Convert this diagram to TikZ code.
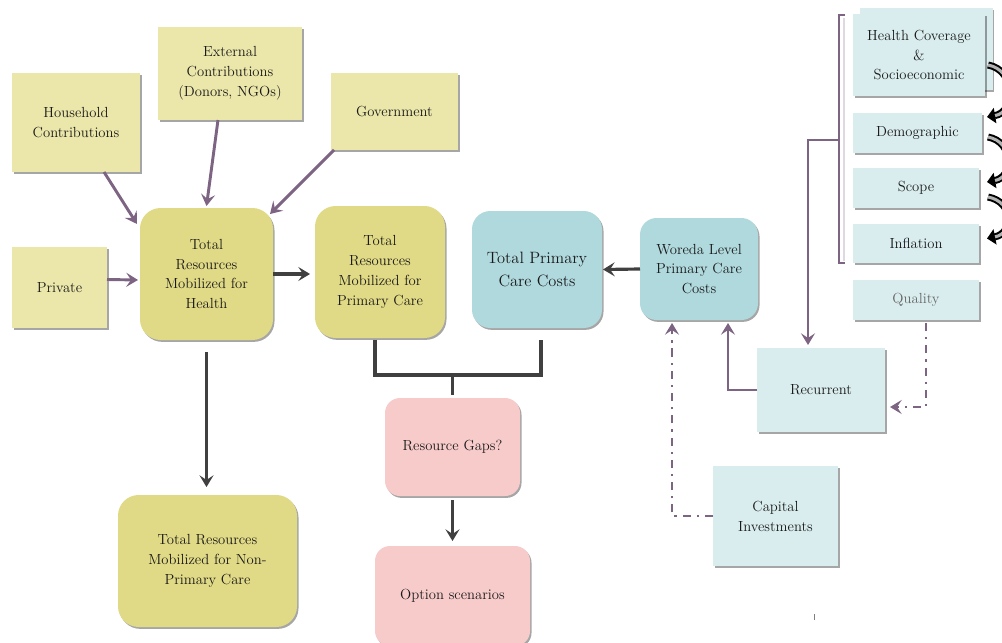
\documentclass[tikz,border=0pt]{standalone}
\usetikzlibrary{arrows.meta,calc,shadows}
\definecolor{ylt}{HTML}{EBE6A9}
\definecolor{ydk}{HTML}{E0D985}
\definecolor{tdk}{HTML}{B0D9DE}
\definecolor{tlt}{HTML}{D9ECEE}
\definecolor{pnk}{HTML}{F8CBCB}
\definecolor{purp}{HTML}{7D6482}
\definecolor{dk}{HTML}{404040}
\tikzset{
 sz/.style 2 args={minimum width=#1*0.03cm, minimum height=#2*0.03cm},
 base/.style={inner sep=2pt, outer sep=0pt, align=center,
   font=\fontsize{12.5}{17}\selectfont, text=black!90,
   drop shadow={shadow xshift=1.3pt, shadow yshift=-1.6pt, opacity=0.35, fill=black}},
 srcbox/.style={base, fill=ylt},
 rybox/.style={base, fill=ydk, rounded corners=0.62cm},
 tbox/.style={base, fill=tdk, rounded corners=0.55cm},
 lbox/.style={base, fill=tlt},
 pbox/.style={base, fill=pnk, rounded corners=0.45cm},
 tip/.style={-{Stealth[length=10pt,width=12pt,inset=4pt]}},
 parrow/.style={tip, draw=purp, line width=2.5pt},
 darrow/.style={tip, draw=dk, line width=2.7pt},
 dline/.style={draw=dk, line width=2.7pt},
 ddarrow/.style={parrow, dash pattern=on 7pt off 5pt on 2pt off 5pt},
 curv/.style={line width=6pt, draw=black, -{Triangle[length=7pt,width=13pt]}},
 curvin/.style={line width=2.6pt, draw=gray!60, shorten >=7pt}
}
\begin{document}
\begin{tikzpicture}[x=0.03cm,y=-0.03cm]
\useasboundingbox (0,0) rectangle (1002,643);
\clip (0,0) rectangle (1002,643);

% source boxes
\node[srcbox, sz={128}{99}] (hh) at (76,122.5) {Household\\Contributions};
\node[srcbox, sz={144}{93}] (ext) at (230,73.5) {External\\Contributions\\(Donors, NGOs)};
\node[srcbox, sz={127}{77}] (gov) at (394.5,111.5) {Government};
\node[srcbox, sz={95}{81}] (pr) at (59.5,287.5) {Private};

% resource boxes
\node[rybox, sz={133}{132}] (trh) at (206.5,274) {Total\\Resources\\Mobilized for\\Health};
\node[rybox, sz={130}{132}] (trpc) at (380,272) {Total\\Resources\\Mobilized for\\Primary Care};
\node[rybox, sz={179}{132}] (npc) at (207.5,561) {Total Resources\\Mobilized for Non-\\Primary Care};

% cost boxes
\node[tbox, sz={130}{117}, font=\fontsize{14}{19}\selectfont] (tpcc) at (537,269.5) {Total Primary\\Care Costs};
\node[tbox, sz={118}{102}, rounded corners=0.5cm] (wor) at (699,269) {Woreda Level\\Primary Care\\Costs};

% driver boxes
\node[lbox, sz={133}{82}] (hcb) at (926,49) {};
\node[lbox, sz={132}{82}] (hc) at (919,55) {Health Coverage\\\&\\Socioeconomic};
\node[lbox, sz={129}{40}] (dem) at (917.5,133) {Demographic};
\node[lbox, sz={126}{40}] (scp) at (916,188) {Scope};
\node[lbox, sz={126}{39}] (inf) at (916,243.5) {Inflation};
\node[lbox, sz={126}{40}, text=black!60] (qual) at (916,300) {Quality};
\node[lbox, sz={128}{84}] (rec) at (821,390) {Recurrent};
\node[lbox, sz={125}{100}] (cap) at (775.5,516) {Capital\\Investments};

% gap boxes
\node[pbox, sz={135}{98}] (rg) at (452.5,447) {Resource Gaps?};
\node[pbox, sz={155}{100}] (opt) at (452.5,596) {Option scenarios};

% source arrows
\draw[parrow] ($(hh.south)+(28,0)$) -- ($(trh.north west)+(-3,16)$);
\draw[parrow] ($(ext.south)+(-12,0)$) -- ($(trh.north)+(0,-2)$);
\draw[parrow] ($(gov.south west)+(3,0)$) -- ($(trh.north east)+(-3,6)$);
\draw[parrow] ($(pr.east)+(0,-8)$) -- ($(trh.west)+(-2,6)$);

% dark arrows
\draw[darrow] (trh.east) -- ($(trpc.west)+(-5,2)$);
\draw[darrow] ($(trh.south)+(0,12)$) -- ($(npc.north)+(-1,-8)$);
\draw[darrow] (wor.west) -- ($(tpcc.east)+(1,0)$);
\draw[dline] ($(trpc.south)+(-5,2)$) -- ++(0,35) coordinate (jl) -| ($(tpcc.south)+(4,12)$);
\draw[dline] (jl -| rg.north) -- ($(rg.north)+(0,-3)$);
\draw[darrow] ($(rg.south)+(0,4)$) -- ($(opt.north)+(0,-5)$);

% bracket and right side
\draw[draw=purp, line width=2.4pt] ($(hc.north west)+(-8,1)$) -| ($(inf.south west)+(-14,0)$) -- ++(6,0);
\draw[draw=purp!25, line width=1pt] ($(hc.north west)+(-9,4)$) -- ($(inf.south west)+(-9,-2)$);
\draw[parrow] ($(hc.north west)+(-14,126)$) -| ($(rec.north)+(-13,-3)$);
\draw[parrow] (rec.west) -| ($(wor.south)+(29,3)$);
\draw[ddarrow] (cap.west) -| ($(wor.south)+(-27,3)$);
\draw[ddarrow] ($(qual.south)+(10,3)$) |- ($(rec.east)+(5,17)$);

% curved arrows
\draw[curv] ($(hc.east)+(3,10)$) .. controls (1016,70) and (1016,112) .. ($(dem.north east)+(5,4)$);
\draw[curvin] ($(hc.east)+(3,10)$) .. controls (1016,70) and (1016,112) .. ($(dem.north east)+(5,4)$);
\draw[curv] ($(dem.east)+(6,4)$) .. controls (1014,142) and (1014,177) .. ($(scp.north east)+(8,14)$);
\draw[curvin] ($(dem.east)+(6,4)$) .. controls (1014,142) and (1014,177) .. ($(scp.north east)+(8,14)$);
\draw[curv] ($(scp.east)+(9,9)$) .. controls (1014,202) and (1014,233) .. ($(inf.east)+(8,-5)$);
\draw[curvin] ($(scp.east)+(9,9)$) .. controls (1014,202) and (1014,233) .. ($(inf.east)+(8,-5)$);

% small mark
\coordinate (mk) at (814,614);
\draw[gray, line width=0.8pt] (mk) -- ++(0,6);
\end{tikzpicture}
\end{document}
